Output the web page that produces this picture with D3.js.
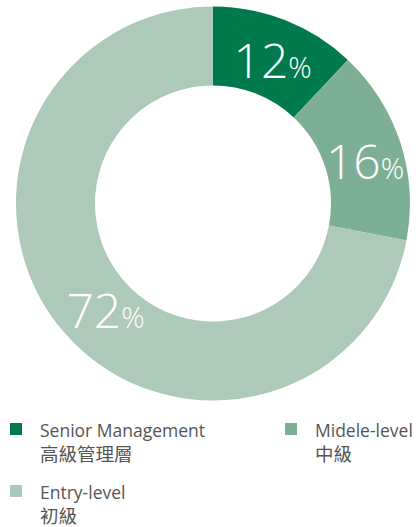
<!DOCTYPE html>
<html>
<head>
<meta charset="utf-8">
<script src="https://cdn.jsdelivr.net/npm/d3@7"></script>
<style>
  body { margin: 0; background: #fff; }
  svg { display: block; }
</style>
</head>
<body>
<svg id="chart" width="419" height="527"></svg>
<script>
// data
var categories = ["Senior Management", "Midele-level", "Entry-level"];
var categoriesZh = ["高級管理層", "中級", "初級"];
var shares = [12, 16, 72];
var colors = ["#007a4c", "#7daf96", "#acc9ba"];

var svg = d3.select("#chart");
var cx = 213, cy = 203.5, rOut = 197, rIn = 118;

var pie = d3.pie().sort(null).value(function(d) { return d; });
var arc = d3.arc().innerRadius(rIn).outerRadius(rOut);
var arcs = pie(shares);

var g = svg.append("g").attr("transform", "translate(" + cx + "," + cy + ")");

g.selectAll("path")
  .data(arcs)
  .enter().append("path")
  .attr("d", arc)
  .attr("fill", function(d, i) { return colors[i]; });

// percentage labels, placed along the ring (radius + small nudge)
var labelPos = [
  { r: 162, dx: 0, dy: 0 },
  { r: 162, dx: -2, dy: 0 },
  { r: 146, dx: 5, dy: 6 }
];
var labelArc = function(d, i) {
  return d3.arc().innerRadius(labelPos[i].r).outerRadius(labelPos[i].r).centroid(d);
};

var labels = g.selectAll("text.pct")
  .data(arcs)
  .enter().append("text")
  .attr("class", "pct")
  .attr("transform", function(d, i) {
    var c = labelArc(d, i);
    return "translate(" + (c[0] + labelPos[i].dx) + "," + (c[1] + labelPos[i].dy) + ")";
  })
  .attr("text-anchor", "middle")
  .attr("dy", 25.5)
  .attr("fill", "#fff")
  .style("font-family", "'Open Sans', sans-serif")
  .style("font-weight", 300)
  .style("font-size", "48px");

labels.append("tspan")
  .text(function(d) { return d.data; });
labels.append("tspan")
  .style("font-size", "29px")
  .text("%");

// legend
var legendPos = [
  { x: 10, y: 423 },
  { x: 285, y: 423 },
  { x: 10, y: 485 }
];

var legend = svg.selectAll("g.legend")
  .data(categories)
  .enter().append("g")
  .attr("class", "legend")
  .attr("transform", function(d, i) {
    return "translate(" + legendPos[i].x + "," + legendPos[i].y + ")";
  });

legend.append("rect")
  .attr("width", 12)
  .attr("height", 12)
  .attr("fill", function(d, i) { return colors[i]; });

legend.append("text")
  .attr("x", 30)
  .attr("y", 13.5)
  .attr("fill", "#555")
  .style("font-family", "'Open Sans', sans-serif")
  .style("font-size", "17.5px")
  .text(function(d) { return d; });

legend.append("text")
  .attr("x", 30)
  .attr("y", 38)
  .attr("fill", "#555")
  .style("font-family", "'Noto Sans CJK TC', sans-serif")
  .style("font-size", "18.5px")
  .text(function(d, i) { return categoriesZh[i]; });
</script>
</body>
</html>
